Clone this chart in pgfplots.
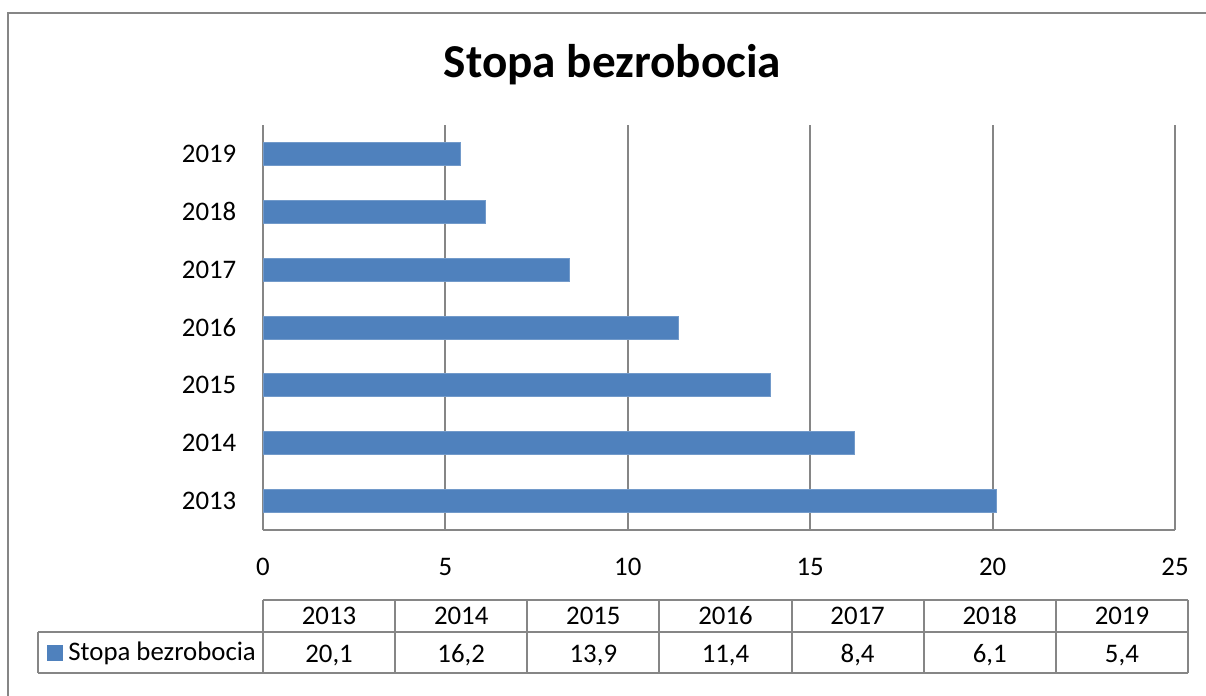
\documentclass[border=0pt]{standalone}
\usepackage{pgfplots}
\pgfplotsset{compat=1.18}
\usepackage{fontspec}
\setmainfont{Carlito}
\definecolor{barblue}{RGB}{79,129,189}
\definecolor{gridgray}{RGB}{134,134,134}
\begin{document}
\fontsize{13.4pt}{15pt}\selectfont
\begin{tikzpicture}[x=0.5pt,y=-0.5pt]
\path[use as bounding box] (0,0) rectangle (1206,696);
% outer chart border
\draw[gridgray,line width=1pt] (8,696) -- (8,13) -- (1206,13);
% title
\node[anchor=base,font=\fontsize{23.6pt}{27pt}\selectfont\bfseries] at (612.5,77) {Stopa bezrobocia};
\begin{axis}[
  at={(131.5pt,-265pt)}, anchor=south west,
  width=456pt, height=202.5pt, scale only axis,
  xbar, bar width=11.5pt,
  xmin=0, xmax=25, ymin=-0.5, ymax=6.5,
  xtick={0,5,10,15,20,25},
  ytick={0,1,2,3,4,5,6},
  yticklabels={2013,2014,2015,2016,2017,2018,2019},
  axis x line*=bottom, axis y line*=left,
  axis line style={-, gridgray, line width=1pt},
  xmajorgrids, grid style={gridgray, line width=1pt},
  major tick length=0pt,
  tick label style={font=\fontsize{13.4pt}{15pt}\selectfont, black},
  xticklabel style={yshift=-9.5pt},
  yticklabel style={xshift=-8.7pt},
  /pgf/number format/assume math mode=true,
  clip=false,
]
\addplot[fill=barblue, draw=barblue!80!white, line width=0.4pt] coordinates {
(20.1,0) (16.2,1) (13.9,2) (11.4,3) (8.4,4) (6.1,5) (5.4,6)};
\end{axis}
% data table
\begin{scope}[gridgray, line width=1pt]
\draw (263,600) -- (1188,600);
\draw (38,632) -- (1188,632);
\draw (38,673) -- (1188,673);
\draw (38,632) -- (38,673);
\foreach \k in {0,...,7} {
  \draw ({263+132.14*\k},600) -- ({263+132.14*\k},673);
}
\end{scope}
\fill[barblue] (47,645) rectangle (63,661);
\node[anchor=base west,inner sep=0pt] at (68,660) {Stopa bezrobocia};
\foreach \k/\yr/\v in {0/2013/{20,1},1/2014/{16,2},2/2015/{13,9},3/2016/{11,4},4/2017/{8,4},5/2018/{6,1},6/2019/{5,4}} {
  \node[anchor=base,inner sep=0pt] at ({263+66.07+132.14*\k},624) {\yr};
  \node[anchor=base,inner sep=0pt] at ({263+66.07+132.14*\k},662) {\v};
}
\end{tikzpicture}
\end{document}
